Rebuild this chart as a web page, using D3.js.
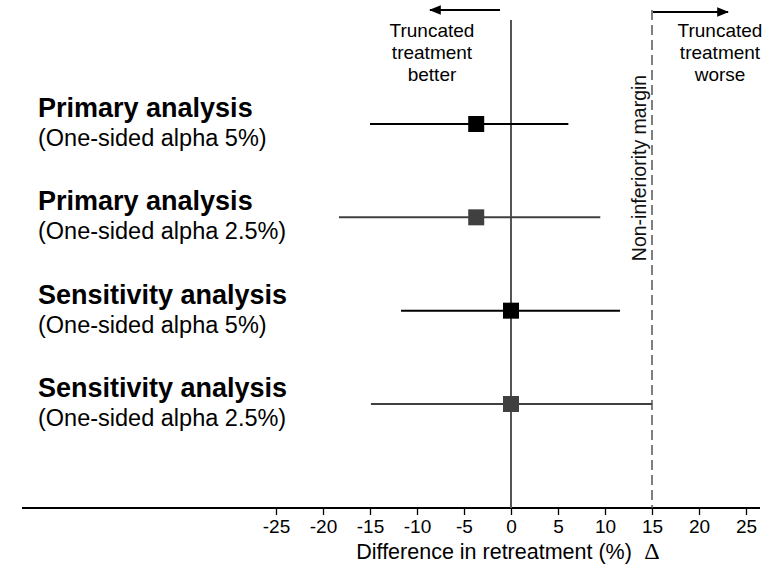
<!DOCTYPE html>
<html><head><meta charset="utf-8">
<script src="https://cdn.jsdelivr.net/npm/d3@7"></script>
<style>body{margin:0;background:#fff}svg{display:block;font-family:"Liberation Sans",Arial,sans-serif}</style>
</head><body><svg id="c" width="779" height="566"></svg>
<script>
const titles = ["Primary analysis","Primary analysis","Sensitivity analysis","Sensitivity analysis"];
const subtitles = ["(One-sided alpha 5%)","(One-sided alpha 2.5%)","(One-sided alpha 5%)","(One-sided alpha 2.5%)"];
const estimates = [-3.7,-3.7,0,0];
const lower = [-15.0,-18.3,-11.7,-14.9];
const upper = [6.1,9.5,11.6,15.0];
const colors = ["#000000","#404040","#000000","#404040"];
const ticks = [-25,-20,-15,-10,-5,0,5,10,15,20,25];
const margin = 15;

const svg = d3.select("#c");
const x = d3.scaleLinear().domain([0,15]).range([511,652]);
const y = d3.scalePoint().domain(d3.range(titles.length)).range([124,404]);
const axisY = 508;

svg.append("defs").append("marker").attr("id","ah").attr("viewBox","0 0 10 10")
  .attr("refX",9).attr("refY",5).attr("markerWidth",6).attr("markerHeight",6).attr("orient","auto-start-reverse")
  .append("path").attr("d","M0,1 L10,5 L0,9 Z").attr("fill","#000");

// axis
const ax = svg.append("g").attr("transform",`translate(0,${axisY})`)
  .call(d3.axisBottom(x).tickValues(ticks).tickFormat(d=>String(d)).tickSize(7).tickSizeOuter(0).tickPadding(5));
ax.select(".domain").remove();
ax.selectAll(".tick line").attr("stroke","#000").attr("stroke-width",1.3);
ax.selectAll(".tick text").attr("font-size",19).attr("fill","#000").attr("font-family","Liberation Sans, Arial, sans-serif");
svg.append("line").attr("x1",22).attr("x2",760).attr("y1",axisY).attr("y2",axisY).attr("stroke","#000").attr("stroke-width",2);

svg.append("text").attr("x",x(-1.8)).attr("y",559).attr("text-anchor","middle").attr("font-size",21.5).text("Difference in retreatment (%)");
svg.append("text").attr("x",x(margin)).attr("y",559).attr("text-anchor","middle").attr("font-size",24).attr("font-family","Liberation Serif, serif").text("\u0394");

// zero line
svg.append("line").attr("x1",x(0)).attr("x2",x(0)).attr("y1",20).attr("y2",axisY).attr("stroke","#555").attr("stroke-width",2);
// margin line
svg.append("line").attr("x1",x(margin)).attr("x2",x(margin)).attr("y1",10).attr("y2",axisY).attr("stroke","#555").attr("stroke-width",1.5).attr("stroke-dasharray","10,5");
svg.append("text").attr("transform",`translate(${x(margin)-6},168) rotate(-90)`).attr("text-anchor","middle").attr("font-size",19.5).attr("fill","#111").text("Non-inferiority margin");

// top annotations
svg.append("line").attr("x1",500).attr("x2",430).attr("y1",10).attr("y2",10).attr("stroke","#000").attr("stroke-width",2).attr("marker-end","url(#ah)");
svg.append("line").attr("x1",653).attr("x2",728).attr("y1",12).attr("y2",12).attr("stroke","#000").attr("stroke-width",2).attr("marker-end","url(#ah)");
const leftAnn = ["Truncated","treatment","better"], rightAnn = ["Truncated","treatment","worse"];
leftAnn.forEach((t,i)=>svg.append("text").attr("x",432).attr("y",37+i*22).attr("text-anchor","middle").attr("font-size",19).text(t));
rightAnn.forEach((t,i)=>svg.append("text").attr("x",720).attr("y",37+i*22).attr("text-anchor","middle").attr("font-size",19).text(t));

// rows
const rows = svg.append("g");
titles.forEach((t,i)=>{
  const cy = y(i);
  rows.append("line").attr("x1",x(lower[i])).attr("x2",x(upper[i])).attr("y1",cy).attr("y2",cy).attr("stroke",colors[i]).attr("stroke-width",2);
  rows.append("rect").attr("x",x(estimates[i])-8).attr("y",cy-8).attr("width",16).attr("height",16).attr("fill",colors[i]);
  rows.append("text").attr("x",38).attr("y",cy-7).attr("font-size",27).attr("font-weight","bold").text(t);
  rows.append("text").attr("x",38).attr("y",cy+22).attr("font-size",23.5).text(subtitles[i]);
});
</script></body></html>
